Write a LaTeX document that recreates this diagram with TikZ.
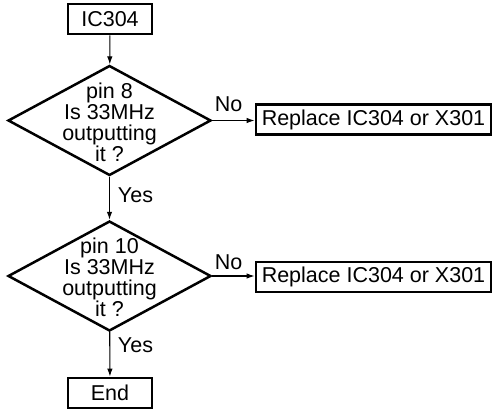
\documentclass[tikz,border=0pt]{standalone}
\usepackage{fontspec}
\setmainfont{Liberation Sans}
\usetikzlibrary{arrows.meta,shapes.geometric}

\begin{document}
\begin{tikzpicture}[x=1pt, y=-1pt, line join=miter,
    txt/.style={font=\fontsize{21.5}{21}\selectfont, inner sep=0pt, align=center},
    termbox/.style={draw, line width=2.8pt, minimum width=84pt, minimum height=30pt, inner sep=0pt, font=\fontsize{21.5}{21}\selectfont},
    actbox/.style={draw, line width=2.8pt, minimum width=235pt, minimum height=30pt, inner sep=0pt, font=\fontsize{21.5}{21}\selectfont},
    decision/.style={draw, diamond, line width=2.5pt, minimum width=203pt, minimum height=110pt, inner sep=0pt},
    flow/.style={line width=1.1pt, -{Latex[length=8pt,width=5.5pt]}}]

  %% ════ 方框 ════
  \node[termbox] (start) at (110,19) {IC304};
  \node[termbox] (stop)  at (110,393) {End};
  \node[actbox]  (rep1)  at (373.5,119.5) {Replace IC304 or X301};
  \node[actbox]  (rep2)  at (373.5,277) {Replace IC304 or X301};

  %% ════ 判断 ════
  \node[decision] (chk1) at (109.5,120.5) {};
  \node[txt]      (q1)   at (109.5,122) {pin 8\\Is 33MHz\\outputting\\it ?};
  \node[decision] (chk2) at (109.5,276) {};
  \node[txt]      (q2)   at (109.5,277.5) {pin 10\\Is 33MHz\\outputting\\it ?};

  %% ════ 连线 ════
  \draw[flow] (start) -- (chk1);
  \draw[flow] (chk1) -- (chk2);
  \draw[flow] (chk2) -- (stop);
  \draw[flow] (chk1.east) -- (chk1.east -| rep1.west);
  \draw[flow] (chk2.east) -- (chk2.east -| rep2.west);

  %% ════ 标签 ════
  \node[txt] (yes1) at (135.5,195) {Yes};
  \node[txt] (yes2) at (135.5,345) {Yes};
  \node[txt] (no1)  at (228.5,104) {No};
  \node[txt] (no2)  at (228.5,262) {No};

  \pgfresetboundingbox
  \path[use as bounding box] (0,0) rectangle (495,410);
\end{tikzpicture}
\end{document}
